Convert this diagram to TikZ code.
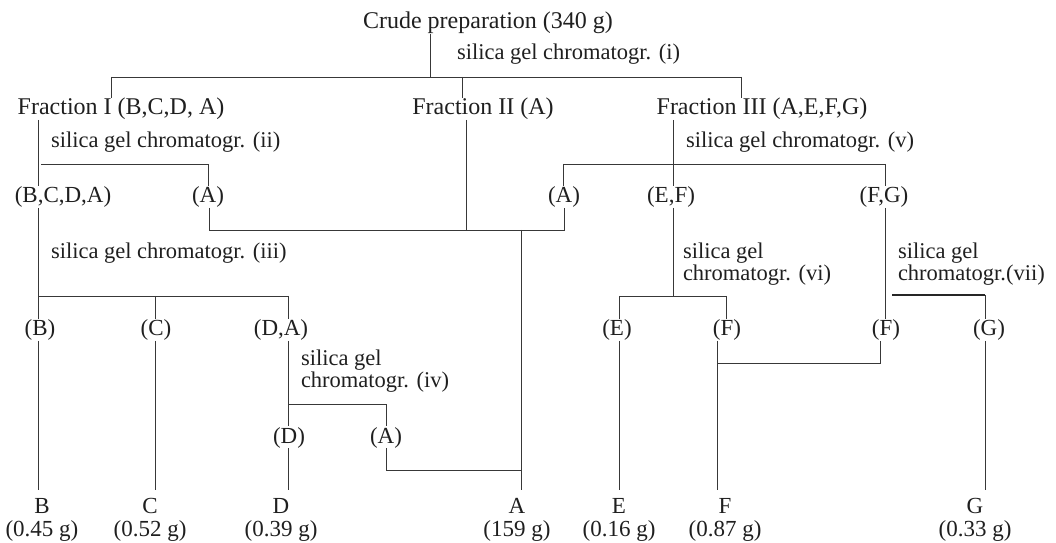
\documentclass[tikz,border=0pt]{standalone}
\usepackage{fontspec}
\setmainfont{Liberation Serif}
\newcommand{\bigf}{\fontsize{24bp}{27bp}\selectfont}
\newcommand{\smf}{\fontsize{23bp}{26bp}\selectfont}
\newcommand{\lblf}{\fontsize{22.5bp}{22bp}\selectfont}
\newcommand{\twolines}[2]{\vtop{\baselineskip=22bp\hbox{#1}\hbox{#2}}}
\begin{document}
\begin{tikzpicture}[x=1bp,y=-1bp,
  every node/.style={inner sep=0pt, outer sep=0pt, text=black!88},
  item/.style={anchor=base, font=\smf, text height=17bp, text depth=5bp},
  head/.style={anchor=base, font=\bigf, text height=17bp, text depth=5bp},
  prod/.style={anchor=base, font=\smf, text height=23bp, text depth=5bp},
  amt/.style={anchor=base, font=\smf},
  lbl/.style={anchor=base west, font=\lblf},
  ln/.style={draw=black!78, line width=0.9bp},
  lnb/.style={draw=black!85, line width=1.4bp}]
\useasboundingbox (0,0) rectangle (1056,543);

% ---------- texts ----------
\node[head] (crude) at (488,29) {Crude preparation (340 g)};
\node[lbl] (s1) at (457,60) {silica gel chromatogr. (i)};
\node[head] (f1) at (121,115) {Fraction I (B,C,D, A)};
\node[head] (f2) at (483,115) {Fraction II (A)};
\node[head] (f3) at (762,115) {Fraction III (A,E,F,G)};
\node[lbl] (s2) at (51,148) {silica gel chromatogr. (ii)};
\node[lbl] (s5) at (686,148) {silica gel chromatogr. (v)};
\node[item] (bcda) at (63,203) {(B,C,D,A)};
\node[item] (aL) at (208,203) {(A)};
\node[item] (aR) at (564,203) {(A)};
\node[item] (ef) at (671,203) {(E,F)};
\node[item] (fg) at (884,203) {(F,G)};
\node[lbl] (s3) at (51,259) {silica gel chromatogr. (iii)};
\node[lbl] (s6) at (683,259) {\twolines{silica gel}{chromatogr. (vi)}};
\node[lbl] (s7) at (898,259) {\twolines{silica gel}{chromatogr.(vii)}};
\node[item] (b) at (40,336) {(B)};
\node[item] (c) at (156,336) {(C)};
\node[item] (da) at (281,336) {(D,A)};
\node[item] (e) at (617,336) {(E)};
\node[item] (fL) at (727,336) {(F)};
\node[item] (fR) at (886,336) {(F)};
\node[item] (g) at (989,336) {(G)};
\node[lbl] (s4) at (301,366) {\twolines{silica gel}{chromatogr. (iv)}};
\node[item] (d) at (289,443) {(D)};
\node[item] (aD) at (386,443) {(A)};

\node[prod] (B) at (42,513) {B};   \node[amt] (Bm) at (42,536) {(0.45 g)};
\node[prod] (C) at (150,513) {C};  \node[amt] (Cm) at (150,536) {(0.52 g)};
\node[prod] (D) at (281,513) {D};  \node[amt] (Dm) at (281,536) {(0.39 g)};
\node[prod] (A) at (517,513) {A};  \node[amt] (Am) at (517,536) {(159 g)};
\node[prod] (E) at (619,513) {E};  \node[amt] (Em) at (619,536) {(0.16 g)};
\node[prod] (F) at (725,513) {F};  \node[amt] (Fm) at (725,536) {(0.87 g)};
\node[prod] (G) at (975,513) {G};  \node[amt] (Gm) at (975,536) {(0.33 g)};

% ---------- junction coordinates ----------
\coordinate (t1) at (430,77);
\coordinate (L1a) at (111,77);
\coordinate (L1c) at (462,77);
\coordinate (L1b) at (741,77);
\coordinate (L2x) at (38,164);
\coordinate (L2a) at (41,164);
\coordinate (L2b) at (208,164);
\coordinate (L5a) at (563,164);
\coordinate (L5c) at (673,164);
\coordinate (L5b) at (885,164);
\coordinate (M1) at (209,230);
\coordinate (M3) at (466,230);
\coordinate (M4) at (521,230);
\coordinate (M2) at (564,230);
\coordinate (L3a) at (38,296);
\coordinate (L3b) at (155,296);
\coordinate (L3c) at (288,296);
\coordinate (L6a) at (619,296);
\coordinate (L6c) at (673,296);
\coordinate (L6b) at (726,296);
\coordinate (L7a) at (892,295);
\coordinate (L7b) at (985,295);
\coordinate (K1) at (717,363);
\coordinate (K2) at (880,363);
\coordinate (L4a) at (288,404);
\coordinate (L4b) at (386,404);
\coordinate (M5) at (386,470);
\coordinate (M6) at (521,470);

% ---------- connectors ----------
% step (i)
\draw[ln] (crude.south -| t1) -- (t1);
\draw[ln] (L1a) -- (L1b);
\draw[ln] (L1a) -- (L1a |- f1.north);
\draw[ln] (L1c) -- (L1c |- f2.north);
\draw[ln] (L1b) -- (L1b |- f3.north);
% step (ii)
\draw[ln] (f1.south -| L2x) -- (L2x |- bcda.north);
\draw[ln] (L2a) -- (L2b) -- (L2b |- aL.north);
% step (v)
\draw[ln] (L5a) -- (L5b);
\draw[ln] (f3.south -| L5c) -- (L5c |- ef.north);
\draw[ln] (L5a) -- (L5a |- aR.north);
\draw[ln] (L5b) -- (L5b |- fg.north);
% pooled A
\draw[ln] (aL.south -| M1) -- (M1) -- (M2) -- (M2 |- aR.south);
\draw[ln] (f2.south -| M3) -- (M3);
\draw[ln] (M4) -- (M4 |- A.north);
% step (iii)
\draw[ln] (bcda.south -| L3a) -- (L3a |- b.north);
\draw[ln] (L3a) -- (L3c);
\draw[ln] (L3b) -- (L3b |- c.north);
\draw[ln] (L3c) -- (L3c |- da.north);
\draw[ln] (b.south -| L3a) -- (L3a |- B.north);
\draw[ln] (c.south -| L3b) -- (L3b |- C.north);
% step (iv)
\draw[ln] (da.south -| L3c) -- (L3c |- d.north);
\draw[ln] (L4a) -- (L4b) -- (L4b |- aD.north);
\draw[ln] (d.south -| L3c) -- (L3c |- D.north);
\draw[ln] (aD.south -| M5) -- (M5) -- (M6);
% step (vi)
\draw[ln] (ef.south -| L6c) -- (L6c);
\draw[ln] (L6a) -- (L6b);
\draw[ln] (L6a) -- (L6a |- e.north);
\draw[ln] (L6b) -- (L6b |- fL.north);
\draw[ln] (e.south -| L6a) -- (L6a |- E.north);
\draw[ln] (fL.south -| K1) -- (K1 |- F.north);
\draw[ln] (K1) -- (K2) -- (K2 |- fR.south);
% step (vii)
\draw[ln] (fg.south -| L5b) -- (L5b |- fR.north);
\draw[lnb] (L7a) -- (L7b);
\draw[ln] (L7b) -- (L7b |- g.north);
\draw[ln] (g.south -| L7b) -- (L7b |- G.north);
\end{tikzpicture}
\end{document}
